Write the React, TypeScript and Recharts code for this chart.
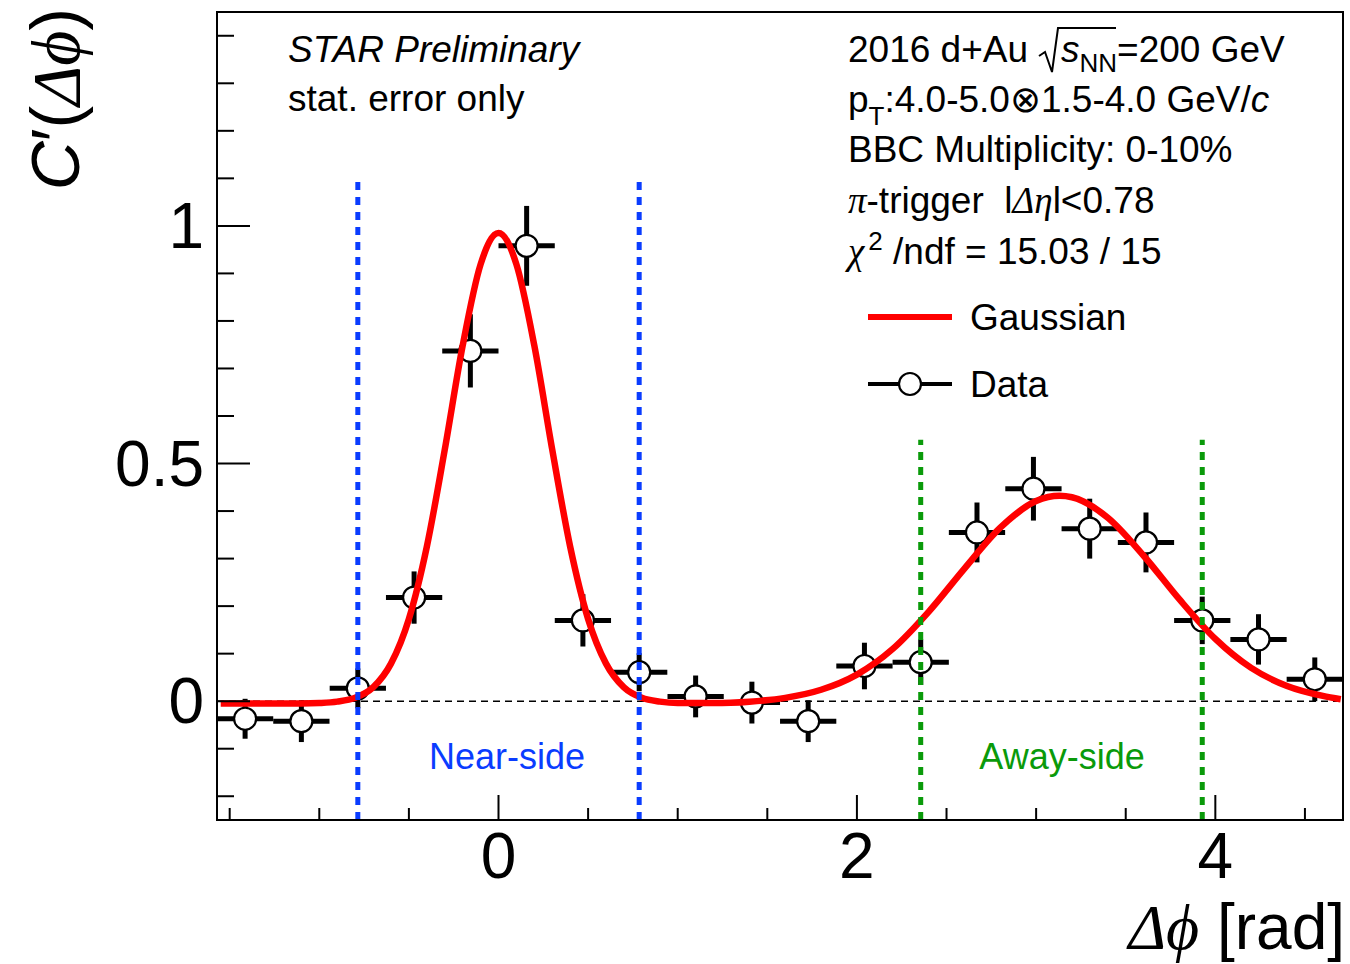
import React from 'react';
import { ComposedChart, Scatter, Line, XAxis, YAxis, ErrorBar, ReferenceLine } from 'recharts';

// ---- data ----
const binCenters = [-1.414, -1.1, -0.785, -0.471, -0.157, 0.157, 0.471, 0.785, 1.1, 1.414, 1.728, 2.042, 2.356, 2.67, 2.985, 3.299, 3.613, 3.927, 4.241, 4.555];
const dataValues = [-0.037, -0.042, 0.027, 0.218, 0.737, 0.958, 0.17, 0.061, 0.01, -0.003, -0.042, 0.074, 0.082, 0.355, 0.447, 0.363, 0.334, 0.17, 0.13, 0.046];
const statErrors = [0.042, 0.044, 0.042, 0.055, 0.077, 0.084, 0.055, 0.04, 0.044, 0.044, 0.044, 0.049, 0.048, 0.063, 0.067, 0.063, 0.063, 0.05, 0.053, 0.046];
const binHalfWidth = 0.157;

const fitX = [-1.55, -1.3, -1.1, -1.0, -0.9, -0.8, -0.7, -0.6, -0.5, -0.4, -0.3, -0.2, -0.1, 0, 0.1, 0.2, 0.3, 0.4, 0.5, 0.6, 0.7, 0.8, 0.9, 1.0, 1.2, 1.4, 1.6, 1.8, 2.0, 2.2, 2.4, 2.6, 2.8, 3.0, 3.13, 3.2, 3.4, 3.6, 3.8, 4.0, 4.2, 4.4, 4.6, 4.7];
const fitY = [-0.005, -0.005, -0.005, -0.004, -0.001, 0.007, 0.029, 0.079, 0.173, 0.325, 0.529, 0.748, 0.919, 0.985, 0.919, 0.748, 0.529, 0.325, 0.173, 0.079, 0.029, 0.007, -0.001, -0.004, -0.004, -0.001, 0.007, 0.024, 0.056, 0.11, 0.188, 0.279, 0.365, 0.421, 0.432, 0.429, 0.386, 0.306, 0.214, 0.131, 0.07, 0.032, 0.011, 0.004];

const xTicks = [-1.5, -1, -0.5, 0, 0.5, 1, 1.5, 2, 2.5, 3, 3.5, 4, 4.5];
const xMajor = [0, 2, 4];
const yTicks = [-0.2, -0.1, 0, 0.1, 0.2, 0.3, 0.4, 0.5, 0.6, 0.7, 0.8, 0.9, 1, 1.1, 1.2, 1.3, 1.4];
const yMajor = [0, 0.5, 1];
const yMajorLabels: Record<string, string> = { '0': '0', '0.5': '0.5', '1': '1' };

const nearSideEdges = [-0.785, 0.785];
const nearSideTop = 1.1;
const awaySideEdges = [2.356, 3.927];
const awaySideTop = 0.55;

const X_DOMAIN: [number, number] = [-1.5708, 4.7124];
const Y_DOMAIN: [number, number] = [-0.25, 1.45];

const points = binCenters.map((x, i) => ({ x, y: dataValues[i], ey: statErrors[i], ex: binHalfWidth }));
const fitCurve = fitX.map((x, i) => ({ x, y: fitY[i] }));

const SANS = "'Liberation Sans', Arial, Helvetica, sans-serif";
const SERIF = "'Liberation Serif', 'Times New Roman', serif";

const PLOT_LEFT = 217;
const PLOT_TOP = 12;
const PLOT_RIGHT = 1343;
const PLOT_BOTTOM = 820;

const isMajor = (v: number, list: number[]) => list.some((m) => Math.abs(m - v) < 1e-9);

const YTick = (props: any) => {
  const { y, payload } = props;
  const major = isMajor(payload.value, yMajor);
  const len = major ? 33 : 17;
  return (
    <g>
      <line x1={PLOT_LEFT} x2={PLOT_LEFT + len} y1={y} y2={y} stroke="#000" strokeWidth={2} />
      {major && (
        <text x={PLOT_LEFT - 13} y={y + 22} textAnchor="end" fontFamily={SANS} fontSize={64} fill="#000">
          {yMajorLabels[String(payload.value)]}
        </text>
      )}
    </g>
  );
};

const XTick = (props: any) => {
  const { x, payload } = props;
  const major = isMajor(payload.value, xMajor);
  const len = major ? 25 : 12;
  return (
    <g>
      <line x1={x} x2={x} y1={PLOT_BOTTOM} y2={PLOT_BOTTOM - len} stroke="#000" strokeWidth={2} />
      {major && (
        <text x={x} y={PLOT_BOTTOM + 58} textAnchor="middle" fontFamily={SANS} fontSize={64} fill="#000">
          {String(payload.value)}
        </text>
      )}
    </g>
  );
};

const DataMarker = (props: any) => {
  const { cx, cy } = props;
  if (cx == null || cy == null) return <g />;
  return <circle cx={cx} cy={cy} r={11} fill="#fff" stroke="#000" strokeWidth={2.2} />;
};

const Overlay = () => (
  <svg width={1350} height={964} style={{ position: 'absolute', left: 0, top: 0, pointerEvents: 'none' }}>
    <rect x={PLOT_LEFT} y={PLOT_TOP} width={PLOT_RIGHT - PLOT_LEFT} height={PLOT_BOTTOM - PLOT_TOP} fill="none" stroke="#000" strokeWidth={2} />

    {/* Y title */}
    <text transform="translate(79,8) rotate(-90)" textAnchor="end" fontSize={68} fill="#000" fontFamily={SANS}>
      <tspan fontStyle="italic">C</tspan>
      <tspan>′(</tspan>
      <tspan fontFamily={SERIF} fontStyle="italic">Δϕ</tspan>
      <tspan>)</tspan>
    </text>

    {/* X title */}
    <text x={1345} y={949} textAnchor="end" fontSize={64} fill="#000" fontFamily={SANS}>
      <tspan fontFamily={SERIF} fontStyle="italic">Δϕ</tspan>
      <tspan> [rad]</tspan>
    </text>

    {/* top-left */}
    <text x={288} y={62} fontFamily={SANS} fontStyle="italic" fontSize={37} fill="#000">STAR Preliminary</text>
    <text x={288} y={111} fontFamily={SANS} fontSize={37} fill="#000">stat. error only</text>

    {/* top-right */}
    <text x={848} y={62} fontFamily={SANS} fontSize={37} fill="#000">2016 d+Au</text>
    <path d="M1039 56 L1045 52 L1052 72 L1058 28 L1116 28" fill="none" stroke="#000" strokeWidth={2} />
    <text x={1061} y={62} fontFamily={SANS} fontSize={37} fill="#000">
      <tspan fontStyle="italic">s</tspan>
      <tspan fontSize={26} dy={10}>NN</tspan>
      <tspan dy={-10}>=200 GeV</tspan>
    </text>

    <text x={848} y={112} fontFamily={SANS} fontSize={37} fill="#000">
      <tspan>p</tspan>
      <tspan fontSize={26} dy={13}>T</tspan>
      <tspan dy={-13}>:4.0-5.0⊗1.5-4.0 GeV/</tspan>
      <tspan fontStyle="italic">c</tspan>
    </text>

    <text x={848} y={162} fontFamily={SANS} fontSize={37} fill="#000">BBC Multiplicity: 0-10%</text>

    <text x={848} y={213} fontFamily={SANS} fontSize={37} fill="#000">
      <tspan fontFamily={SERIF} fontStyle="italic">π</tspan>
      <tspan>-trigger{'\u00a0\u00a0'}l</tspan>
      <tspan fontFamily={SERIF} fontStyle="italic">Δη</tspan>
      <tspan>l&lt;0.78</tspan>
    </text>

    <text x={848} y={264} fontFamily={SANS} fontSize={37} fill="#000">
      <tspan fontFamily={SERIF} fontStyle="italic">χ</tspan>
      <tspan fontSize={26} dx={4} dy={-14}>2</tspan>
      <tspan dy={14}>{'\u00a0'}/ndf = 15.03 / 15</tspan>
    </text>

    {/* legend */}
    <line x1={868} x2={952} y1={317} y2={317} stroke="#ff0000" strokeWidth={6} />
    <text x={970} y={330} fontFamily={SANS} fontSize={37} fill="#000">Gaussian</text>
    <line x1={868} x2={952} y1={384} y2={384} stroke="#000" strokeWidth={4} />
    <circle cx={910} cy={384} r={11} fill="#fff" stroke="#000" strokeWidth={2.2} />
    <text x={970} y={397} fontFamily={SANS} fontSize={37} fill="#000">Data</text>

    {/* region labels */}
    <text x={507} y={769} textAnchor="middle" fontFamily={SANS} fontSize={36} fill="#0a3cff">Near-side</text>
    <text x={1062} y={769} textAnchor="middle" fontFamily={SANS} fontSize={36} fill="#0a9a0a">Away-side</text>
  </svg>
);

export default function App() {
  return (
    <div style={{ position: 'absolute', left: 0, top: 0, width: 1350, height: 964, background: '#fff' }}>
      <ComposedChart width={1350} height={964} margin={{ top: PLOT_TOP, right: 1350 - PLOT_RIGHT, left: 0, bottom: 0 }}>
        <XAxis
          dataKey="x"
          type="number"
          domain={X_DOMAIN}
          allowDataOverflow
          ticks={xTicks}
          interval={0}
          height={964 - PLOT_BOTTOM}
          axisLine={false}
          tickLine={false}
          tick={<XTick />}
        />
        <YAxis
          type="number"
          domain={Y_DOMAIN}
          allowDataOverflow
          ticks={yTicks}
          interval={0}
          width={PLOT_LEFT}
          axisLine={false}
          tickLine={false}
          tick={<YTick />}
        />
        <ReferenceLine y={0} stroke="#000" strokeWidth={1.5} strokeDasharray="7 5" zIndex={50} />
        <Scatter data={points} dataKey="y" shape={<DataMarker />} isAnimationActive={false} zIndex={400}>
          <ErrorBar dataKey="ex" direction="x" width={0} stroke="#000" strokeWidth={5} />
          <ErrorBar dataKey="ey" direction="y" width={0} stroke="#000" strokeWidth={5} />
        </Scatter>
        <Line data={fitCurve} dataKey="y" type="monotone" stroke="#ff0000" strokeWidth={6.5} dot={false} activeDot={false} isAnimationActive={false} zIndex={700} />
        {nearSideEdges.map((e) => (
          <ReferenceLine key={'n' + e} segment={[{ x: e, y: Y_DOMAIN[0] }, { x: e, y: nearSideTop }]} stroke="#0a3cff" strokeWidth={5} strokeDasharray="8 7" zIndex={800} />
        ))}
        {awaySideEdges.map((e) => (
          <ReferenceLine key={'a' + e} segment={[{ x: e, y: Y_DOMAIN[0] }, { x: e, y: awaySideTop }]} stroke="#0a9a0a" strokeWidth={5} strokeDasharray="8 7" zIndex={800} />
        ))}
      </ComposedChart>
      <Overlay />
    </div>
  );
}
